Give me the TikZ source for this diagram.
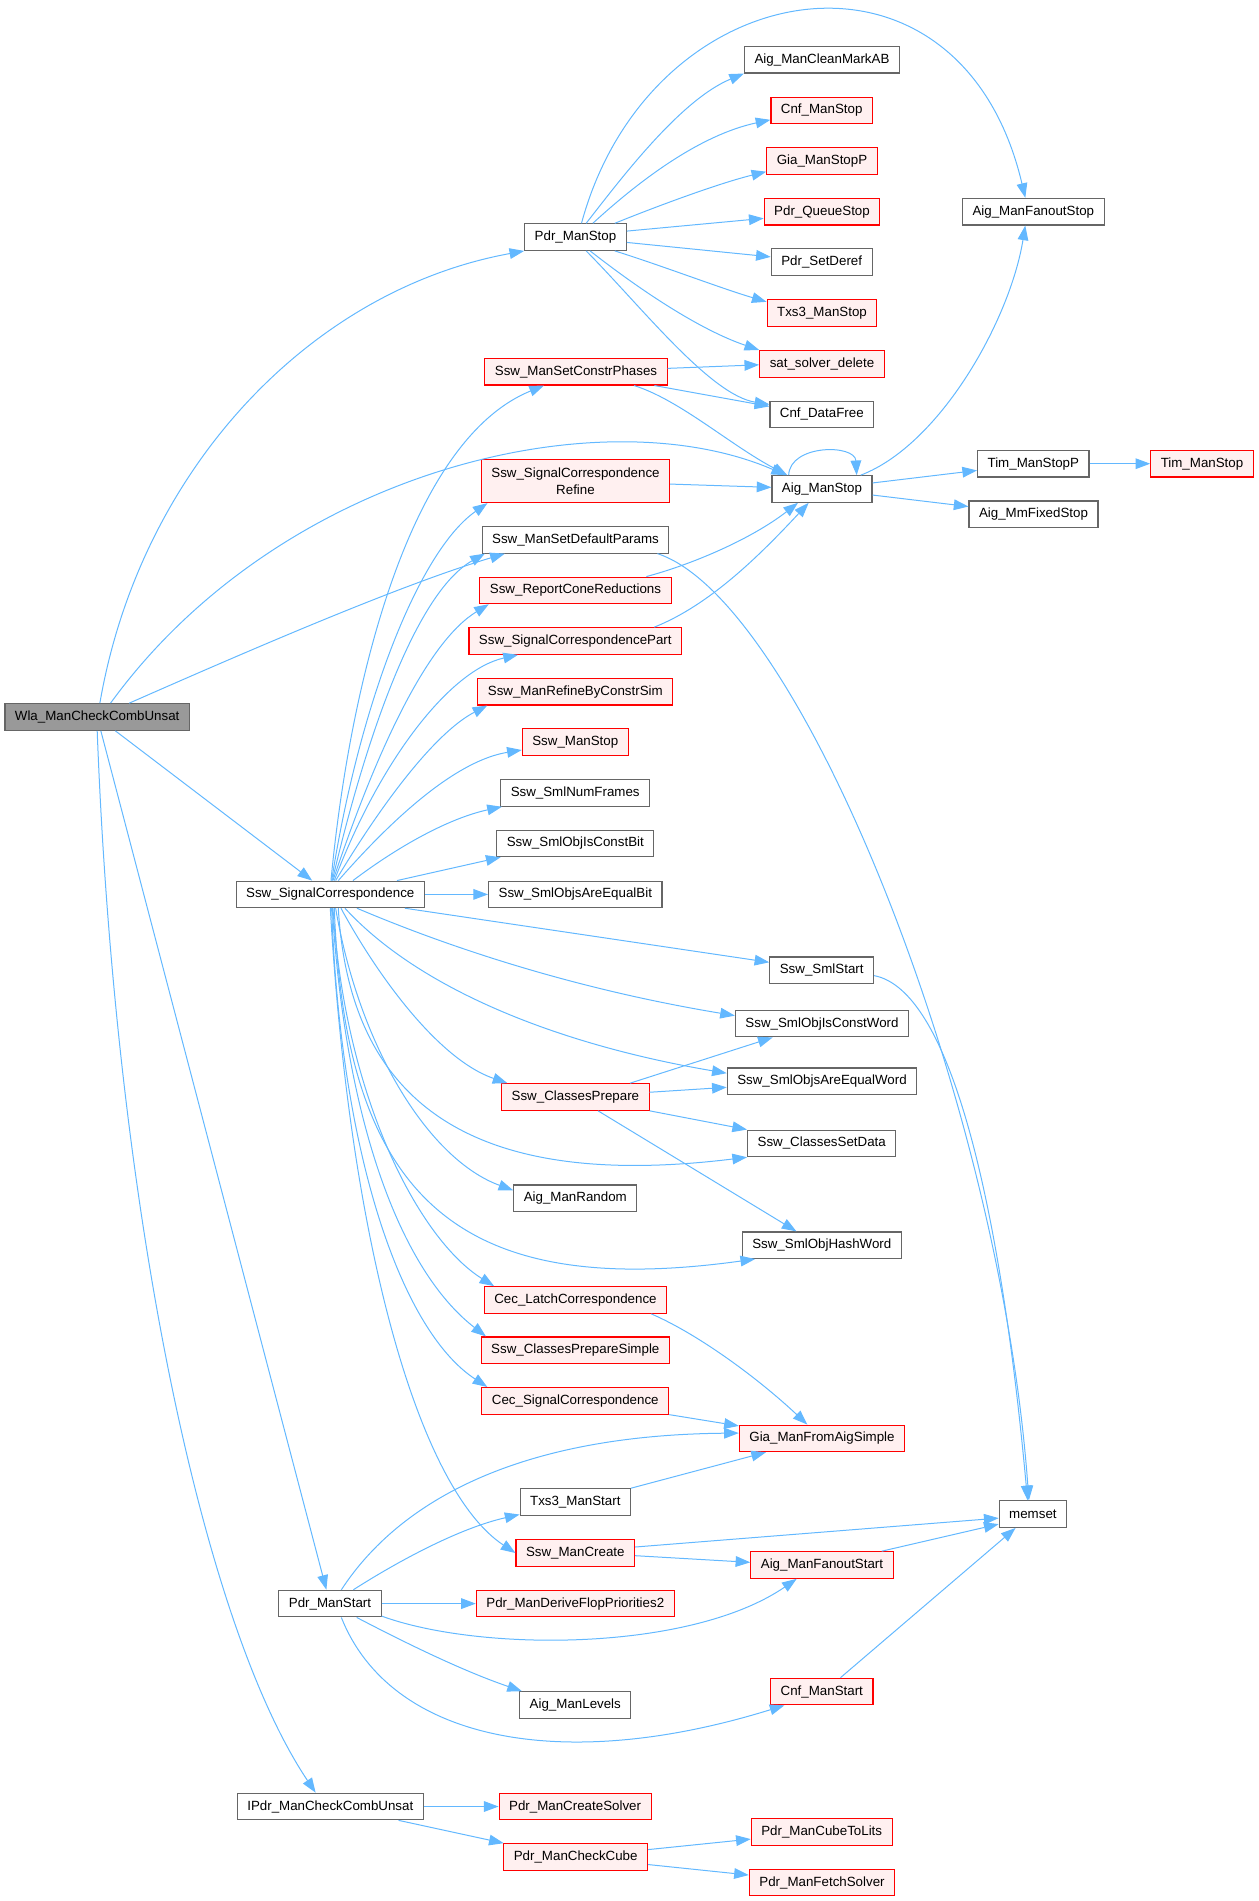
\documentclass[tikz,border=0pt]{standalone}
\usepackage{fontspec}
\setmainfont{Liberation Sans}
\usetikzlibrary{arrows.meta}
\definecolor{callblue}{HTML}{63B8FF}
\definecolor{nodegray}{HTML}{666666}
\definecolor{rootfill}{HTML}{999999}
\definecolor{redfill}{HTML}{FFF0F0}
\begin{document}
\begin{tikzpicture}[x=0.75pt,y=-0.75pt,
    fn/.style={draw=nodegray,fill=white,line width=0.85pt,inner xsep=7.5pt,inner ysep=4pt,
      minimum height=19.9pt,align=center,font=\fontsize{10}{12.4}\selectfont},
    rn/.style={fn,draw=red,fill=redfill},
    root/.style={fn,fill=rootfill},
    call/.style={draw=callblue,line width=0.75pt,-{Triangle[length=11pt,width=8pt]}}]
  \useasboundingbox (0,0) rectangle (1259,1901);

  \node [root] (wla) at (97.2,717) {Wla\_ManCheckCombUnsat};
  \node [fn] (sc) at (330.3,894.4) {Ssw\_SignalCorrespondence};
  \node [fn] (pst) at (330,1603.6) {Pdr\_ManStart};
  \node [fn] (ipd) at (330.3,1806.5) {IPdr\_ManCheckCombUnsat};

  \node [fn] (pms) at (575.5,237.1) {Pdr\_ManStop};
  \node [rn] (scp) at (576,371.7) {Ssw\_ManSetConstrPhases};
  \node [rn,minimum height=32.3pt] (scr) at (575.5,481) {Ssw\_SignalCorrespondence\\Refine};
  \node [fn] (sdp) at (575.5,539.8) {Ssw\_ManSetDefaultParams};
  \node [rn] (rcr) at (575.5,590.4) {Ssw\_ReportConeReductions};
  \node [rn] (scpart) at (575.3,641) {Ssw\_SignalCorrespondencePart};
  \node [rn] (rbc) at (575.3,691.7) {Ssw\_ManRefineByConstrSim};
  \node [rn] (sms) at (575.3,742) {Ssw\_ManStop};
  \node [fn] (snf) at (575.2,792.9) {Ssw\_SmlNumFrames};
  \node [fn] (scb) at (575.3,843.4) {Ssw\_SmlObjIsConstBit};
  \node [fn] (seb) at (575.3,894.4) {Ssw\_SmlObjsAreEqualBit};
  \node [rn] (cpr) at (575.4,1097) {Ssw\_ClassesPrepare};
  \node [fn] (amr) at (575.3,1198.3) {Aig\_ManRandom};
  \node [rn] (clc) at (575.5,1300) {Cec\_LatchCorrespondence};
  \node [rn] (cps) at (575.3,1350.2) {Ssw\_ClassesPrepareSimple};
  \node [rn] (csc) at (575.3,1400.8) {Cec\_SignalCorrespondence};
  \node [fn] (txs) at (575.3,1502) {Txs3\_ManStart};
  \node [rn] (smc) at (575.3,1553) {Ssw\_ManCreate};
  \node [rn] (dfp) at (575.3,1603.6) {Pdr\_ManDeriveFlopPriorities2};
  \node [fn] (aml) at (575.3,1705) {Aig\_ManLevels};
  \node [rn] (mcs) at (575.1,1806.5) {Pdr\_ManCreateSolver};
  \node [rn] (mcc) at (575.7,1857) {Pdr\_ManCheckCube};

  \node [fn] (cma) at (822,59.7) {Aig\_ManCleanMarkAB};
  \node [rn] (cms) at (821.7,110.5) {Cnf\_ManStop};
  \node [rn] (gsp) at (822,161) {Gia\_ManStopP};
  \node [rn] (pqs) at (822,211.7) {Pdr\_QueueStop};
  \node [fn] (psd) at (821.7,262.2) {Pdr\_SetDeref};
  \node [rn] (tms) at (822,313) {Txs3\_ManStop};
  \node [rn] (ssd) at (822,363.8) {sat\_solver\_delete};
  \node [fn] (cdf) at (821.8,414.4) {Cnf\_DataFree};
  \node [fn] (ams) at (822,489) {Aig\_ManStop};
  \node [fn] (sst) at (821.7,970.3) {Ssw\_SmlStart};
  \node [fn] (scw) at (822,1023.6) {Ssw\_SmlObjIsConstWord};
  \node [fn] (sew) at (822,1081.2) {Ssw\_SmlObjsAreEqualWord};
  \node [fn] (csd) at (821.7,1143.4) {Ssw\_ClassesSetData};
  \node [fn] (shw) at (821.8,1245.2) {Ssw\_SmlObjHashWord};
  \node [rn] (gfa) at (822,1438.4) {Gia\_ManFromAigSimple};
  \node [rn] (afs) at (822,1565) {Aig\_ManFanoutStart};
  \node [rn] (cst) at (821.8,1691.5) {Cnf\_ManStart};
  \node [rn] (ctl) at (821.7,1831.8) {Pdr\_ManCubeToLits};
  \node [rn] (mfs) at (822,1882.6) {Pdr\_ManFetchSolver};

  \node [fn] (afo) at (1033.3,211.7) {Aig\_ManFanoutStop};
  \node [fn] (tsp) at (1033.3,463.7) {Tim\_ManStopP};
  \node [fn] (mfx) at (1033.5,514.3) {Aig\_MmFixedStop};
  \node [fn] (mem) at (1032.9,1514.1) {memset};
  \node [rn] (tim) at (1202,463.7) {Tim\_ManStop};

  \draw[call] ([xshift=2pt]wla.north) .. controls (140,470) and (310,290) .. (pms.south west);
  \draw[call] ([xshift=10pt]wla.north) .. controls (280,470) and (600,395) .. ([xshift=-27pt]ams.north);
  \draw[call] ([xshift=24pt]wla.north) .. controls (250,650) and (400,585) .. ([xshift=-53pt]sdp.south);
  \draw[call] (wla) -- (sc);
  \draw[call] (wla) -- (pst);
  \draw[call] (wla.south) .. controls (115,1200) and (200,1620) .. ([xshift=-11pt]ipd.north);

  \draw[call] ([xshift=4.5pt]pms.north) .. controls (650,-30) and (960,-80) .. ([xshift=-6pt]afo.north);
  \draw[call] ([xshift=8pt]pms.north) .. controls (620,180) and (680,100) .. (cma.south west);
  \draw[call] ([xshift=13pt]pms.north) .. controls (640,180) and (700,135) .. ([yshift=-7pt]cms.west);
  \draw[call] ([xshift=-9pt]pms.north east) .. controls (660,205) and (720,183) .. ([yshift=-8pt]gsp.west);
  \draw[call] ([yshift=4.5pt]pms.east) -- ([yshift=-5pt]pqs.west);
  \draw[call] ([yshift=-4pt]pms.east) -- ([yshift=4pt]psd.west);
  \draw[call] ([xshift=-9pt]pms.south east) .. controls (660,265) and (720,288) .. ([yshift=-2pt]tms.north west);
  \draw[call] ([xshift=11pt]pms.south) .. controls (640,290) and (700,330) .. (ssd.north west);
  \draw[call] ([xshift=8pt]pms.south) .. controls (640,305) and (710,395) .. ([yshift=7.5pt]cdf.west);

  \draw[call] ([yshift=2.5pt]scp.east) -- ([yshift=-0.75pt]ssd.west);
  \draw[call] ([xshift=-10pt]scp.south east) -- ([yshift=6pt]cdf.west);
  \draw[call] ([xshift=43.5pt]scp.south) .. controls (680,400) and (730,445) .. ([xshift=-26pt]ams.north);
  \draw[call] (scr) -- (ams);
  \draw[call] ([xshift=-9pt]sdp.south east) .. controls (800,600) and (1000,1100) .. ([xshift=-3pt]mem.north);
  \draw[call] ([xshift=-19pt]rcr.north east) .. controls (690,565) and (750,540) .. ([xshift=-18pt]ams.south);
  \draw[call] ([xshift=-21pt]scpart.north east) .. controls (710,605) and (760,555) .. ([xshift=-10pt]ams.south);

  \draw[call] ([xshift=-25pt]ams.north) .. controls (790,444) and (855,444) .. ([xshift=26pt]ams.north);
  \draw[call] ([xshift=29pt]ams.north) .. controls (940,445) and (1010,320) .. ([xshift=-6pt]afo.south);
  \draw[call] (ams) -- (tsp);
  \draw[call] (ams) -- (mfx);
  \draw[call] (tsp) -- (tim);

  \draw[call] ([xshift=0.5pt]sc.north) .. controls (350,680) and (410,440) .. ([xshift=-24pt]scp.south);
  \draw[call] ([xshift=1pt]sc.north) .. controls (360,700) and (420,550) .. ([xshift=-66pt]scr.south);
  \draw[call] ([xshift=1.5pt]sc.north) .. controls (370,720) and (420,590) .. ([xshift=-68pt]sdp.south);
  \draw[call] ([xshift=2pt]sc.north) .. controls (380,740) and (430,640) .. ([xshift=-65pt]rcr.south);
  \draw[call] ([xshift=3pt]sc.north) .. controls (380,760) and (450,670) .. ([xshift=-43pt]scpart.south);
  \draw[call] ([xshift=4pt]sc.north) .. controls (390,790) and (440,730) .. ([xshift=-66pt]rbc.south);
  \draw[call] ([xshift=6pt]sc.north) .. controls (400,810) and (460,760) .. ([yshift=-6pt]sms.west);
  \draw[call] ([xshift=17pt]sc.north) .. controls (400,845) and (450,818) .. ([xshift=-55pt]snf.south);
  \draw[call] ([xshift=50pt]sc.north) -- ([xshift=-56pt]scb.south);
  \draw[call] (sc) -- (seb);
  \draw[call] ([xshift=56pt]sc.south) -- ([yshift=6pt]sst.west);
  \draw[call] ([xshift=20pt]sc.south) .. controls (420,935) and (550,985) .. ([yshift=6pt]scw.west);
  \draw[call] ([xshift=11pt]sc.south) .. controls (420,990) and (560,1045) .. ([yshift=6pt]sew.west);
  \draw[call] ([xshift=8pt]sc.south) .. controls (380,980) and (440,1060) .. ([xshift=-51pt]cpr.north);
  \draw[call] ([xshift=6pt]sc.south) .. controls (350,1110) and (480,1190) .. (csd.south west);
  \draw[call] ([xshift=4pt]sc.south) .. controls (360,1050) and (430,1160) .. ([yshift=6pt]amr.west);
  \draw[call] ([xshift=3pt]sc.south) .. controls (345,1200) and (460,1300) .. ([xshift=-50pt]shw.south);
  \draw[call] ([xshift=2pt]sc.south) .. controls (345,1100) and (420,1240) .. ([xshift=-61pt]clc.north);
  \draw[call] ([xshift=1.5pt]sc.south) .. controls (345,1120) and (400,1270) .. ([xshift=-67pt]cps.north);
  \draw[call] ([xshift=1pt]sc.south) .. controls (340,1150) and (400,1330) .. ([xshift=-66pt]csc.north);
  \draw[call] (sc.south) .. controls (350,1250) and (420,1490) .. (smc.west);

  \draw[call] ([yshift=-4pt]sst.east) .. controls (950,990) and (1000,1200) .. ([xshift=-4pt]mem.north);
  \draw[call] ([xshift=41pt]cpr.north) -- ([xshift=-37pt]scw.south);
  \draw[call] (cpr) -- (sew);
  \draw[call] (cpr.south east) -- (csd.north west);
  \draw[call] ([xshift=17pt]cpr.south) -- ([xshift=-19pt]shw.north);
  \draw[call] ([xshift=-12pt]clc.south east) .. controls (700,1335) and (760,1380) .. ([xshift=-11pt]gfa.north);
  \draw[call] (csc.south east) -- ([yshift=-1pt]gfa.north west);

  \draw[call] ([xshift=8.5pt]pst.north) .. controls (400,1500) and (520,1435) .. ([yshift=4pt]gfa.west);
  \draw[call] ([xshift=17.5pt]pst.north) .. controls (400,1560) and (460,1528) .. ([yshift=1pt]txs.south west);
  \draw[call] (pst) -- (dfp);
  \draw[call] ([yshift=1pt]pst.south east) .. controls (480,1652) and (690,1652) .. ([xshift=-19pt]afs.south);
  \draw[call] ([xshift=20pt]pst.south) .. controls (400,1640) and (460,1670) .. ([xshift=-40pt]aml.north);
  \draw[call] ([xshift=8.5pt]pst.south) .. controls (390,1740) and (560,1775) .. ([xshift=-28pt]cst.south);

  \draw[call] (txs.north east) -- ([xshift=-42pt]gfa.south);
  \draw[call] ([yshift=4.5pt]smc.east) -- ([yshift=-3pt]mem.west);
  \draw[call] ([yshift=-2pt]smc.east) -- ([yshift=2pt]afs.west);
  \draw[call] ([xshift=-9pt]afs.north east) -- ([yshift=-7.5pt]mem.west);
  \draw[call] ([xshift=14pt]cst.north) -- ([xshift=-13pt]mem.south);

  \draw[call] (ipd) -- (mcs);
  \draw[call] ([xshift=-19pt]ipd.south east) -- ([xshift=-54pt]mcc.north);
  \draw[call] (mcc) -- (ctl);
  \draw[call] (mcc) -- (mfs);
\end{tikzpicture}
\end{document}
